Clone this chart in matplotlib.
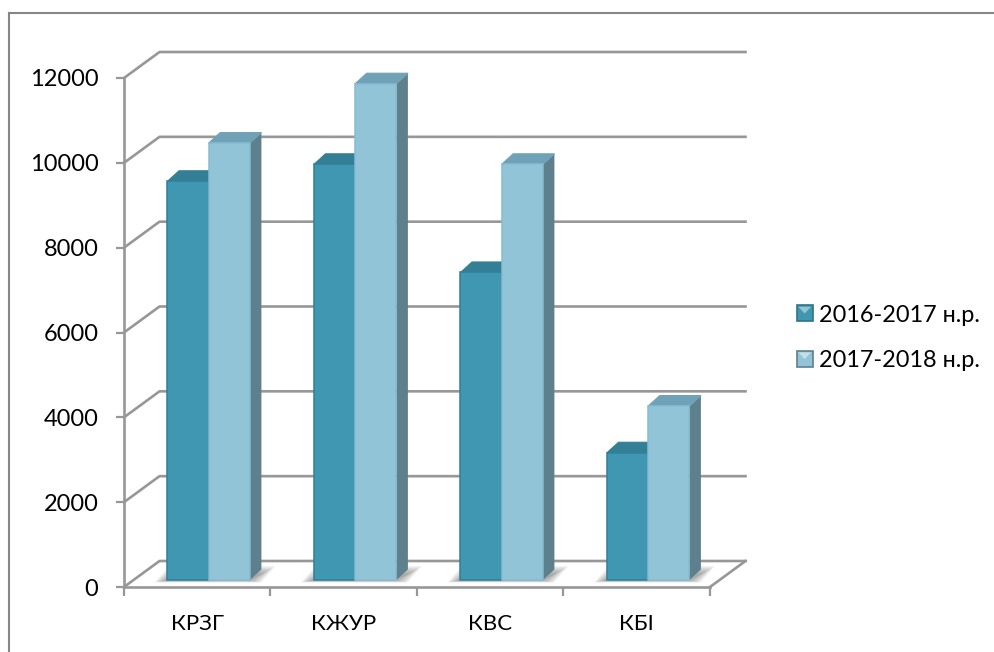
import matplotlib
matplotlib.use("Agg")
import matplotlib.pyplot as plt
from matplotlib.patches import Polygon, Rectangle, Patch
from matplotlib.legend_handler import HandlerBase
from matplotlib.lines import Line2D

plt.rcParams['font.family'] = ['Lato', 'Open Sans', 'DejaVu Sans']

categories = ["КРЗГ", "КЖУР", "КВС", "КБІ"]
series_names = ["2016-2017 н.р.", "2017-2018 н.р."]
values_2016 = [9400, 9800, 7250, 3000]
values_2017 = [10300, 11700, 9800, 4100]
y_ticks = [0, 2000, 4000, 6000, 8000, 10000, 12000]

W, H = 995, 652
GRID = "#979797"
fig = plt.figure(figsize=(W / 100, H / 100), dpi=100, facecolor="white")
ax = fig.add_axes([124 / W, 1 - 587 / H, 586 / W, 509 / H])
ax.set_xlim(0, 4)
ax.set_ylim(0, 12000)
ax.patch.set_visible(False)

PX_X = 4 / 586
PX_Y = 12000 / 509


def px(dx, dy):
    return dx * PX_X, dy * PX_Y


# outer chart frame
fig.add_artist(Line2D([9 / W, 9 / W], [0, 1 - 13 / H], color="#868686", lw=1.5))
fig.add_artist(Line2D([9 / W, 1], [1 - 13 / H, 1 - 13 / H], color="#868686", lw=1.5))

# back wall grid, side wall diagonals, floor
wx, wy = px(35.5, 26)
for v in y_ticks:
    ax.plot([0, wx, 4 + wx], [v, v + wy, v + wy], color=GRID, lw=1.9,
            clip_on=False, zorder=1, solid_joinstyle="round")
ax.plot([4, 4 + wx], [0, wy], color=GRID, lw=1.9, clip_on=False, zorder=1)

# spines and ticks
for s in ("top", "right"):
    ax.spines[s].set_visible(False)
for s in ("left", "bottom"):
    ax.spines[s].set_color(GRID)
    ax.spines[s].set_linewidth(1.9)
    ax.spines[s].set_zorder(2)
ax.set_yticks(y_ticks)
ax.set_yticklabels([str(v) for v in y_ticks], fontsize=17, color="black")
ax.tick_params(axis="y", length=6, width=1.6, color=GRID, pad=12.5)
ax.set_xticks(range(5))
ax.set_xticklabels([])
ax.tick_params(axis="x", which="major", length=6.5, width=1.6, color=GRID)
ax.set_xticks([i + 0.5 for i in range(4)], minor=True)
ax.set_xticklabels(categories, minor=True, fontsize=16, color="black")
ax.tick_params(axis="x", which="minor", length=0, pad=19.5)

# bar geometry
bar_w = 41.2 * PX_X
start = 43.5 * PX_X
lift = 7 * PX_Y
dx, dy = px(11.5, 10.5)

styles = [
    dict(front="#4097B1", side="#2F7387", top="#337F96", edge="#327F97"),
    dict(front="#92C4D8", side="#5E7F8C", top="#6FA2B6", edge="#86BCD2"),
]
all_series = [values_2016, values_2017]

# soft floor shadow behind each group
for i in range(len(categories)):
    x0 = i + start
    x1 = x0 + 2 * bar_w
    steps = 12
    for k in range(steps):
        f = 1 - k / (steps - 1)
        l = x0 - (3 + 10 * f) * PX_X
        r = x1 + dx + (1 + 13 * f) * PX_X
        b = lift - (0.5 + 2 * f) * PX_Y
        t = lift + (6 + 8 * f) * PX_Y
        sl = 14 * PX_X
        pts = [(l, b), (r - sl, b), (r, t), (l + sl, t)]
        ax.add_patch(Polygon(pts, closed=True, facecolor="#5a5a5a", edgecolor="none",
                             alpha=0.055, clip_on=False, zorder=3))

# bars
for j, (vals, st) in enumerate(zip(all_series, styles)):
    xs = [i + start + j * bar_w for i in range(len(categories))]
    for x, v in zip(xs, vals):
        top = v + lift
        ax.add_patch(Polygon([(x + bar_w, lift), (x + bar_w + dx, lift + dy),
                              (x + bar_w + dx, top + dy), (x + bar_w, top)],
                             closed=True, facecolor=st["side"], edgecolor="none",
                             zorder=4 + j, clip_on=False, joinstyle="round"))
        ax.add_patch(Polygon([(x, top), (x + dx, top + dy),
                              (x + bar_w + dx, top + dy), (x + bar_w, top)],
                             closed=True, facecolor=st["top"], edgecolor=st["top"], lw=0.8,
                             zorder=4 + j, clip_on=False, joinstyle="round"))
    ax.bar(xs, vals, width=bar_w, bottom=lift, align="edge", color=st["front"],
           edgecolor=st["edge"], linewidth=1.1, zorder=5 + j, clip_on=False)


# legend with bevelled square keys
class BevelHandler(HandlerBase):
    def create_artists(self, legend, orig, xd, yd, width, height, fontsize, trans):
        base, tip = orig.get_edgecolor(), orig.get_facecolor()
        s = width
        x0, y0 = -xd, -yd + (height - s) / 2
        sq = Rectangle((x0, y0), s, s, facecolor=tip, edgecolor=base, lw=1.2, transform=trans)
        tri = Polygon([(x0 + 0.1 * s, y0 + 0.92 * s), (x0 + 0.9 * s, y0 + 0.92 * s),
                       (x0 + 0.5 * s, y0 + 0.5 * s)], closed=True,
                      facecolor="white", edgecolor="none", alpha=0.45, transform=trans)
        return [sq, tri]


handles = [Patch(facecolor=st["front"], edgecolor=st["side"]) for st in styles]
leg = fig.legend(handles, series_names, handler_map={Patch: BevelHandler()},
                 loc="center left", bbox_to_anchor=(792 / W, 1 - 338 / H), frameon=False,
                 fontsize=16.9, handlelength=0.68, handletextpad=0.27,
                 labelspacing=1.05, borderpad=0.2, borderaxespad=0)

fig.savefig("out.png", dpi=100, facecolor="white")
